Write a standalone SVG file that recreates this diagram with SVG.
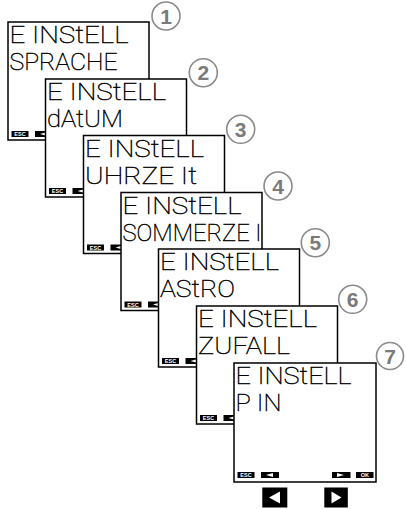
<svg xmlns="http://www.w3.org/2000/svg" width="406" height="509" viewBox="0 0 406 509">
<style>
.box{fill:#fff;stroke:#000;stroke-width:1.5}
.lcd{font-family:Roboto,"Liberation Sans",sans-serif;font-weight:100;font-size:24.5px;fill:#000;stroke:#000;stroke-width:0.45}
.btn{fill:#000}
.bt{font-family:"Liberation Sans",Arial,sans-serif;font-size:5.5px;font-weight:bold;fill:#fff;text-anchor:middle}
.tri{fill:#fff}
.num{fill:#fff;stroke:#8a8a8a;stroke-width:1.6}
.nt{font-family:"Liberation Sans",Arial,sans-serif;font-size:21px;font-weight:bold;fill:#7a7a7a;text-anchor:middle}
</style>
<defs>
<g id="escl">
<rect class="btn" x="3.5" y="109" width="17" height="6"/>
<text class="bt" x="12" y="114.2">ESC</text>
<rect class="btn" x="27" y="109" width="18" height="6"/>
<polygon class="tri" points="32,112 39,110 39,114"/>
</g>
</defs>
<g id="node1" transform="translate(8,22)">
<rect class="box" x="0" y="0" width="141" height="118"/>
<text class="lcd" x="1.5" y="21" textLength="119" lengthAdjust="spacingAndGlyphs">E INStELL</text>
<text class="lcd" x="1.5" y="48" textLength="108" lengthAdjust="spacingAndGlyphs">SPRACHE</text>
<use href="#escl"/>
</g>
<g id="node1-num"><circle class="num" cx="166" cy="16" r="14"/><text class="nt" x="166" y="23.5">1</text></g>
<g id="node2" transform="translate(45.5,79)">
<rect class="box" x="0" y="0" width="141" height="118"/>
<text class="lcd" x="1.5" y="21" textLength="119" lengthAdjust="spacingAndGlyphs">E INStELL</text>
<text class="lcd" x="1.5" y="48" textLength="76" lengthAdjust="spacingAndGlyphs">dAtUM</text>
<use href="#escl"/>
</g>
<g id="node2-num"><circle class="num" cx="203.3" cy="72.7" r="14"/><text class="nt" x="203.3" y="80.2">2</text></g>
<g id="node3" transform="translate(83.5,135.5)">
<rect class="box" x="0" y="0" width="141" height="118"/>
<text class="lcd" x="1.5" y="21" textLength="119" lengthAdjust="spacingAndGlyphs">E INStELL</text>
<text class="lcd" x="1.5" y="48" textLength="112" lengthAdjust="spacingAndGlyphs">UHRZE It</text>
<use href="#escl"/>
</g>
<g id="node3-num"><circle class="num" cx="240.7" cy="129.3" r="14"/><text class="nt" x="240.7" y="136.8">3</text></g>
<g id="node4" transform="translate(121,192.5)">
<rect class="box" x="0" y="0" width="141" height="118"/>
<text class="lcd" x="1.5" y="21" textLength="119" lengthAdjust="spacingAndGlyphs">E INStELL</text>
<text class="lcd" x="1.5" y="48" textLength="139" lengthAdjust="spacingAndGlyphs">SOMMERZE I</text>
<use href="#escl"/>
</g>
<g id="node4-num"><circle class="num" cx="278" cy="186" r="14"/><text class="nt" x="278" y="193.5">4</text></g>
<g id="node5" transform="translate(158.5,249)">
<rect class="box" x="0" y="0" width="141" height="118"/>
<text class="lcd" x="1.5" y="21" textLength="119" lengthAdjust="spacingAndGlyphs">E INStELL</text>
<text class="lcd" x="1.5" y="48" textLength="75" lengthAdjust="spacingAndGlyphs">AStRO</text>
<use href="#escl"/>
</g>
<g id="node5-num"><circle class="num" cx="315.3" cy="242.7" r="14"/><text class="nt" x="315.3" y="250.2">5</text></g>
<g id="node6" transform="translate(196.5,306)">
<rect class="box" x="0" y="0" width="141" height="118"/>
<text class="lcd" x="1.5" y="21" textLength="119" lengthAdjust="spacingAndGlyphs">E INStELL</text>
<text class="lcd" x="1.5" y="48" textLength="92" lengthAdjust="spacingAndGlyphs">ZUFALL</text>
<use href="#escl"/>
</g>
<g id="node6-num"><circle class="num" cx="352.7" cy="299.3" r="14"/><text class="nt" x="352.7" y="306.8">6</text></g>
<g id="node7" transform="translate(234,363)">
<rect class="box" x="0" y="0" width="142" height="119"/>
<text class="lcd" x="1.5" y="21" textLength="116" lengthAdjust="spacingAndGlyphs">E INStELL</text>
<text class="lcd" x="1.5" y="48" textLength="46" lengthAdjust="spacingAndGlyphs">P IN</text>
<use href="#escl"/>
<rect class="btn" x="98" y="109" width="18.5" height="6"/>
<polygon class="tri" points="110,112 103,110 103,114"/>
<rect class="btn" x="122" y="109" width="17.5" height="6"/>
<text class="bt" x="130.8" y="114.2">OK</text>
</g>
<g id="node7-num"><circle class="num" cx="390" cy="356" r="13.5"/><text class="nt" x="390" y="363.5">7</text></g>
<g id="keys">
<rect class="btn" x="262.3" y="487.5" width="25" height="20"/>
<polygon class="tri" points="269,497.5 280,491.5 280,503.5"/>
<rect class="btn" x="324.3" y="487.5" width="23.5" height="20"/>
<polygon class="tri" points="341.5,497.5 331.5,491.5 331.5,503.5"/>
</g>
</svg>
